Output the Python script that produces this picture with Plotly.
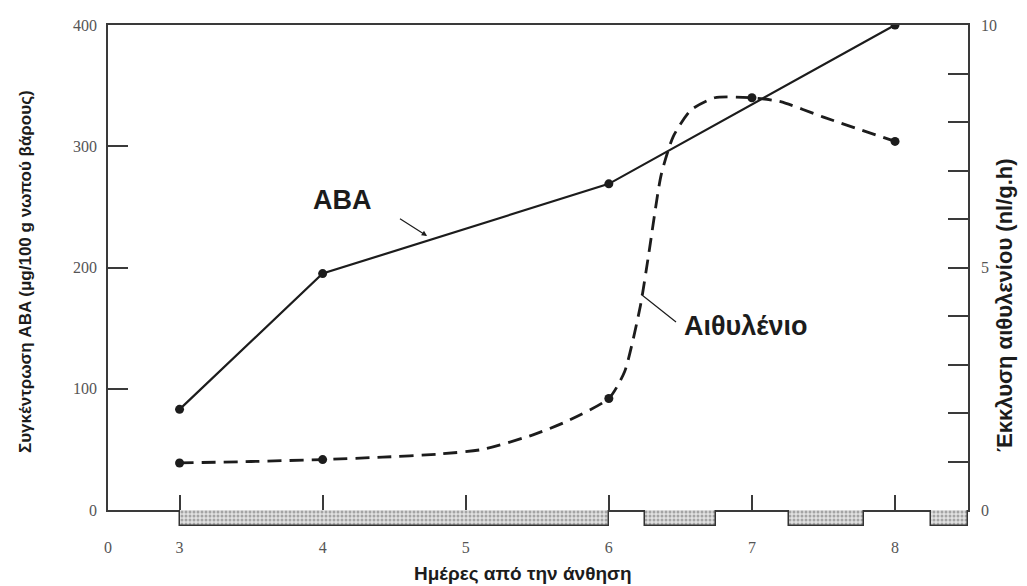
import plotly.graph_objects as go

# ---------------- data ----------------
aba_days = [3, 4, 6, 8]
aba_values = [83, 195, 269, 400]            # μg/100 g fresh weight (left axis)

eth_days = [3, 4, 6, 7, 8]
eth_values = [0.97, 1.04, 2.3, 8.5, 7.6]     # nl/g.h (right axis), measured points

# drawn (smoothed) ethylene curve as traced on the picture
eth_curve_days = [3.0, 3.5, 4.0, 4.42, 4.8, 5.12, 5.47, 5.70, 6.0, 6.11, 6.22,
                  6.28, 6.365, 6.45, 6.575, 6.74, 7.0, 7.2, 7.5, 8.0]
eth_curve_values = [0.97, 1.0, 1.04, 1.09, 1.15, 1.25, 1.55, 1.82, 2.3, 2.85, 4.2,
                    5.3, 6.9, 7.7, 8.25, 8.5, 8.5, 8.42, 8.1, 7.6]

dark_start = [3.0, 6.25, 7.26, 8.25]        # dotted periods under the axis
dark_end = [6.0, 6.75, 7.78, 8.51]

x_tick_vals = [2.5, 3, 4, 5, 6, 7, 8]
x_tick_text = ["0", "3", "4", "5", "6", "7", "8"]
left_tick_vals = [0, 100, 200, 300, 400]
right_tick_vals = list(range(0, 11))
right_tick_text = ["0", "", "", "", "", "5", "", "", "", "", "10"]

X_RANGE = [2.5, 8.51]

# ---------------- layout helpers ----------------
# the page body adds an 8px offset; the figure is sized so that
# page pixels line up with the reference picture.
OFF = 8
W, H = 1027 - OFF, 586 - OFF
ML, MT = 108 - OFF, 25 - OFF
MR = W - (968 - OFF)
MB = H - (526 - OFF)
PW = W - ML - MR
PH = H - MT - MB
STRIP = 16 / PH  # strip for the dotted bars


def px(xp):  # page pixel -> paper
    return (xp - OFF - ML) / PW


def py(yp):
    return (H - MB - (yp - OFF)) / PH


INK = "#1c1c1c"
AX = "#3a3a3a"
TICKFONT = dict(family="Liberation Serif, DejaVu Serif, serif", size=16, color="#555555")
BOLD = "Liberation Sans, Arial, sans-serif"

fig = go.Figure()

fig.add_trace(go.Scatter(
    x=aba_days, y=aba_values, mode="lines+markers", name="ABA",
    line=dict(color=INK, width=2.2),
    marker=dict(size=9, color=INK),
    xaxis="x", yaxis="y", showlegend=False,
))

fig.add_trace(go.Scatter(
    x=eth_curve_days, y=eth_curve_values, mode="lines", name="Αιθυλένιο",
    line=dict(color=INK, width=2.8, dash="14px,8px", shape="spline", smoothing=0.6),
    xaxis="x", yaxis="y2", showlegend=False,
))
fig.add_trace(go.Scatter(
    x=eth_days, y=eth_values, mode="markers", name="Αιθυλένιο",
    marker=dict(size=9, color=INK),
    xaxis="x", yaxis="y2", showlegend=False,
))

# dotted bars below the axis
fig.add_trace(go.Bar(
    x=[(s + e) / 2 for s, e in zip(dark_start, dark_end)],
    width=[e - s for s, e in zip(dark_start, dark_end)],
    y=[1] * len(dark_start), base=0,
    marker=dict(color="#d8d8d8",
                line=dict(color="#333333", width=1.5),
                pattern=dict(shape=".", fgcolor="#666666", bgcolor="#e2e2e2", size=4, solidity=0.45)),
    xaxis="x2", yaxis="y3", showlegend=False, hoverinfo="skip",
))

fig.update_layout(
    width=W, height=H,
    margin=dict(l=ML, r=MR, t=MT, b=MB, autoexpand=False),
    paper_bgcolor="white", plot_bgcolor="white",
    bargap=0,
    xaxis=dict(
        range=X_RANGE, domain=[0, 1], anchor="y",
        showline=True, linecolor=AX, linewidth=1.5, mirror=True,
        ticks="inside", ticklen=15, tickwidth=1.5, tickcolor=AX,
        tickvals=[3, 4, 5, 6, 7, 8], showticklabels=False,
        showgrid=False, zeroline=False,
    ),
    xaxis2=dict(
        range=X_RANGE, matches="x", anchor="y3", domain=[0, 1],
        showline=False, ticks="", tickvals=x_tick_vals, ticktext=x_tick_text,
        tickfont=TICKFONT, ticklabelstandoff=10,
        showgrid=False, zeroline=False,
    ),
    yaxis=dict(
        range=[0, 400], domain=[STRIP, 1], anchor="x",
        showline=True, linecolor=AX, linewidth=1.5,
        ticks="inside", ticklen=20, tickwidth=1.5, tickcolor=AX,
        tickvals=left_tick_vals, tickfont=TICKFONT, ticklabelstandoff=6,
        showgrid=False, zeroline=False,
    ),
    yaxis2=dict(
        range=[0, 10], overlaying="y", side="right", anchor="x",
        showline=True, linecolor=AX, linewidth=1.5,
        ticks="inside", ticklen=20, tickwidth=1.5, tickcolor=AX,
        tickvals=right_tick_vals, ticktext=right_tick_text,
        tickfont=TICKFONT, ticklabelstandoff=8,
        showgrid=False, zeroline=False,
    ),
    yaxis3=dict(range=[0, 1], domain=[0, STRIP], anchor="x2", visible=False,
                fixedrange=True),
)

annotations = [
    # axis titles
    dict(text="Συγκέντρωση ABA (μg/100 g νωπού βάρους)", xref="paper", yref="paper",
         x=px(25), y=py(272), textangle=-90, showarrow=False,
         xanchor="center", yanchor="middle",
         font=dict(family=BOLD, size=17, color=INK, weight="bold")),
    dict(text="Έκκλυση αιθυλενίου (nl/g.h)", xref="paper", yref="paper",
         x=px(1004), y=py(305), textangle=-90, showarrow=False,
         xanchor="center", yanchor="middle",
         font=dict(family=BOLD, size=22, color=INK, weight="bold")),
    dict(text="Ημέρες από την άνθηση", xref="paper", yref="paper",
         x=px(523), y=py(573), showarrow=False,
         xanchor="center", yanchor="middle",
         font=dict(family=BOLD, size=19, color=INK, weight="bold")),
    # series labels
    dict(text="ABA", xref="x", yref="y", x=4.14, y=256, showarrow=False,
         xanchor="center", yanchor="middle",
         font=dict(family=BOLD, size=27, color=INK, weight="bold")),
    dict(text="", xref="x", yref="y", x=4.73, y=226, axref="x", ayref="y",
         ax=4.53, ay=241, showarrow=True, arrowhead=2, arrowsize=0.9,
         arrowwidth=1.2, arrowcolor=INK),
    dict(text="Αιθυλένιο", xref="x", yref="y2", x=6.96, y=3.8, showarrow=False,
         xanchor="center", yanchor="middle",
         font=dict(family=BOLD, size=27, color=INK, weight="bold")),
    dict(text="", xref="x", yref="y2", x=6.225, y=4.45, axref="x", ayref="y2",
         ax=6.48, ay=3.85, showarrow=True, arrowhead=0,
         arrowwidth=1.2, arrowcolor=INK),
]
fig.update_layout(annotations=annotations)

fig.write_html("out.html")
